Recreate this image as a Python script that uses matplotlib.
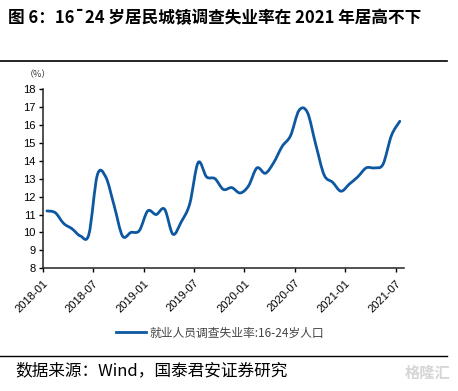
#!/usr/bin/env python3
"""16-24 urban surveyed unemployment rate chart, written to out.png."""
import matplotlib

matplotlib.use("Agg")
import matplotlib.pyplot as plt
from matplotlib.lines import Line2D
from matplotlib.patches import PathPatch
from matplotlib.path import Path

plt.rcParams["font.family"] = ["Liberation Sans", "Noto Sans CJK SC", "DejaVu Sans"]

# monthly values, 2018-01 .. 2021-07
rate = [11.2, 11.1, 10.5, 10.2, 9.8, 9.9, 13.2, 13.1, 11.5, 9.8, 10.0, 10.1,
        11.2, 11.0, 11.3, 9.9, 10.6, 11.6, 13.9, 13.1, 13.0, 12.4, 12.5, 12.2,
        12.6, 13.6, 13.3, 13.9, 14.8, 15.4, 16.8, 16.7, 14.9, 13.2, 12.8, 12.3,
        12.7, 13.1, 13.6, 13.6, 13.8, 15.4, 16.2]
tick_labels = ["2018-01", "2018-07", "2019-01", "2019-07",
               "2020-01", "2020-07", "2021-01", "2021-07"]
series_name = "就业人员调查失业率:16-24岁人口"
title = "图 6：16¯24 岁居民城镇调查失业率在 2021 年居高不下"
source = "数据来源：Wind，国泰君安证券研究"

LINE_C = "#0d58a0"
CJK = ["Noto Sans CJK SC", "DejaVu Sans"]

W, H = 458, 391
fig = plt.figure(figsize=(W / 100, H / 100), dpi=100)
ax = fig.add_axes([42.7 / W, 1 - 268.3 / H, (404 - 42.7) / W, (268.3 - 89) / H])

# category axis: points sit in the middle of each month slot
xs = [i + 0.5 for i in range(len(rate))]
pts = list(zip(xs, rate))
verts = [pts[0]]
codes = [Path.MOVETO]
n = len(pts)
for i in range(n - 1):
    p0 = pts[max(i - 1, 0)]
    p1 = pts[i]
    p2 = pts[i + 1]
    p3 = pts[min(i + 2, n - 1)]
    c1 = (p1[0] + (p2[0] - p0[0]) / 6, p1[1] + (p2[1] - p0[1]) / 6)
    c2 = (p2[0] - (p3[0] - p1[0]) / 6, p2[1] - (p3[1] - p1[1]) / 6)
    verts += [c1, c2, p2]
    codes += [Path.CURVE4] * 3
ax.add_patch(PathPatch(Path(verts, codes), fill=False, edgecolor=LINE_C,
                       lw=2.0, capstyle="round", joinstyle="round"))

ax.set_xlim(0, 43)
ax.set_ylim(8, 18)
ax.set_yticks(range(8, 19))
ax.set_xticks(range(0, 43, 6))
ax.set_xticklabels(tick_labels, rotation=45, ha="right", va="top",
                   rotation_mode="anchor")
ax.tick_params(axis="both", direction="out", length=3, width=1, labelsize=8,
               colors="black", pad=2)
ax.tick_params(axis="x", pad=4)
for s in ("top", "right"):
    ax.spines[s].set_visible(False)
for s in ("left", "bottom"):
    ax.spines[s].set_linewidth(1.1)
    ax.spines[s].set_color("#222222")

fig.text(38 / W, 1 - 75 / H, "（%）", fontsize=6.5, family=CJK,
         ha="center", va="center", color="#333333")

# legend under the axes
fig.legend(handles=[Line2D([], [], color=LINE_C, lw=2.0)], labels=[series_name],
           loc="center", bbox_to_anchor=(220 / W, 1 - 333 / H), frameon=False,
           handlelength=2.6, handletextpad=0.3,
           prop={"family": CJK, "size": 8.5}, labelcolor="#444444")

# title and rules
fig.text(8 / W, 1 - 18 / H, title, fontsize=12, fontweight="bold", family=CJK,
         ha="left", va="center")
fig.add_artist(Line2D([0, 447 / W], [1 - 61 / H] * 2, color="black", lw=1.2))
fig.add_artist(Line2D([0, 447 / W], [1 - 356 / H] * 2, color="black", lw=1.0))
fig.text(15 / W, 1 - 371 / H, source, fontsize=12, family=CJK,
         ha="left", va="center")
fig.text(450 / W, 1 - 373 / H, "格隆汇", fontsize=11, family=CJK,
         ha="right", va="center", color="#d6d6d6", fontweight="bold")

fig.savefig("out.png", dpi=100)
